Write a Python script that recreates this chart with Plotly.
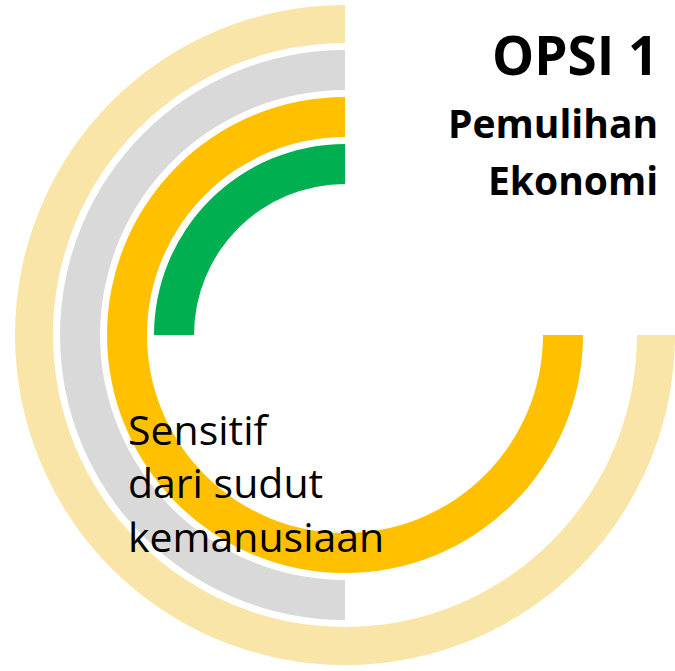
import plotly.graph_objects as go

# concentric arcs, outer -> inner
rings = ['Ring 1', 'Ring 2', 'Ring 3', 'Ring 4']
spans = [270, 180, 270, 90]   # degrees swept counterclockwise from 12 o'clock
colors = ['#F9E5A7', '#D9D9D9', '#FFC000', '#00B050']

W, H = 675, 671
cx, cy = 345, 335          # centre of the rings, px from top-left
R = 330                    # plot radius, px
ring_w, ring_step, outer = 40, 47, 332

fig = go.Figure()
for i, name in enumerate(rings):
    r_out = outer - ring_step * i
    fig.add_trace(go.Barpolar(
        name=name,
        theta=[spans[i] / 2],
        width=[spans[i]],
        base=[r_out - ring_w],
        r=[ring_w],
        marker=dict(color=colors[i], line=dict(width=0)),
        hoverinfo='skip',
    ))

fig.update_layout(
    width=W, height=H, autosize=False,
    margin=dict(l=0, r=0, t=0, b=0),
    paper_bgcolor='white', plot_bgcolor='white',
    showlegend=False,
    polar=dict(
        domain=dict(x=[(cx - R) / W, (cx + R) / W],
                    y=[(H - cy - R) / H, (H - cy + R) / H]),
        bgcolor='white',
        hole=0,
        radialaxis=dict(range=[0, R], visible=False, showgrid=False),
        angularaxis=dict(rotation=90, direction='counterclockwise',
                         visible=False, showgrid=False),
    ),
)


def py(y):
    return 1 - y / H


fig.add_annotation(x=660 / W, y=py(55), xref='paper', yref='paper',
                   xanchor='right', yanchor='middle', showarrow=False,
                   text='<b>OPSI 1</b>',
                   font=dict(family='Open Sans', size=53, color='black'))
fig.add_annotation(x=660 / W, y=py(122), xref='paper', yref='paper',
                   xanchor='right', yanchor='middle', showarrow=False,
                   text='<b>Pemulihan</b>',
                   font=dict(family='Open Sans', size=39, color='black'))
fig.add_annotation(x=660 / W, y=py(180), xref='paper', yref='paper',
                   xanchor='right', yanchor='middle', showarrow=False,
                   text='<b>Ekonomi</b>',
                   font=dict(family='Open Sans', size=39, color='black'))
fig.add_annotation(x=126 / W, y=py(482), xref='paper', yref='paper',
                   xanchor='left', yanchor='middle', align='left', showarrow=False,
                   text='Sensitif<br>dari sudut<br>kemanusiaan',
                   font=dict(family='Open Sans', size=41, color='black'))

# drop the browser's default 8px body margin so the figure sits at the page corner
fig.write_html("out.html",
               config={'displayModeBar': False},
               post_script="document.body.style.margin='0';"
                           "document.body.style.overflow='hidden';")
